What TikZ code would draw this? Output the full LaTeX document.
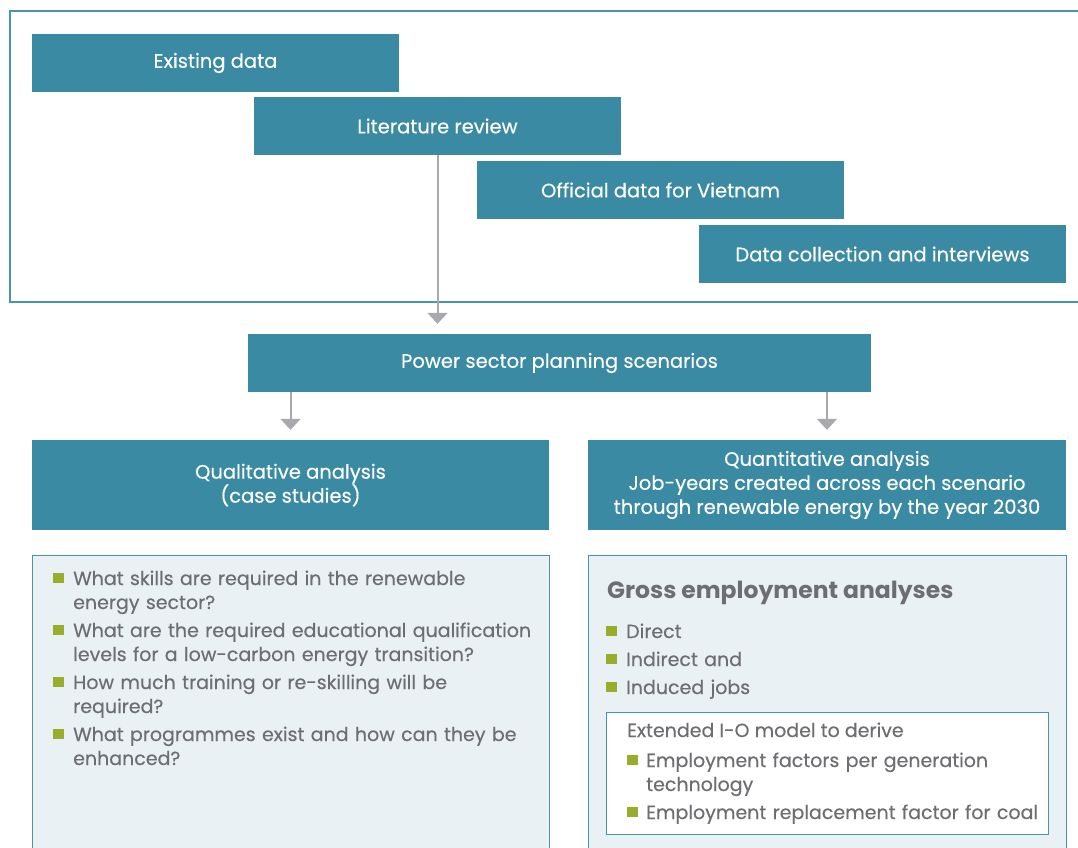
\documentclass[tikz,border=0pt]{standalone}
\usepackage{fontspec}
\setmainfont{Poppins}[UprightFeatures={FakeBold=0.35}]
\usetikzlibrary{arrows.meta,positioning}

\definecolor{boxteal}{HTML}{3A8AA3}
\definecolor{lineteal}{HTML}{4893AD}
\definecolor{paleblue}{HTML}{E9F1F5}
\definecolor{arrowgray}{HTML}{A7A9AC}
\definecolor{textgray}{HTML}{6D6E71}
\definecolor{leafgreen}{HTML}{97AD2B}

\newcommand{\bitem}[2][20pt]{\noindent\hangindent=#1\hangafter=1%
  \makebox[#1][l]{\textcolor{leafgreen}{\rule[1.7pt]{10.5pt}{10.5pt}}}#2\par}

\begin{document}
\begin{tikzpicture}[
    x=1pt, y=-1pt,
    font=\fontsize{19.5}{24}\selectfont,
    stage/.style={fill=boxteal, text=white, minimum width=367pt, minimum height=58pt, inner sep=0pt, align=center},
    panel/.style={draw=lineteal, fill=paleblue, line width=1pt},
    link/.style={draw=arrowgray, line width=2pt, -{Triangle[width=20pt,length=11pt]}, shorten >=10pt},
    listing/.style={text=textgray, inner sep=0pt, anchor=base west, align=left,
      font=\fontsize{19}{24}\selectfont,
      execute at begin node={\setlength{\parskip}{4pt}}}
  ]

  \useasboundingbox (0,0) rectangle (1078,847);

  % Sources frame
  \draw[lineteal, line width=1.2pt] (10,11) rectangle (1095,302);

  % Data sources
  \node[stage] (exist) at (215.5,63) {Existing data};
  \node[stage] (litrev) at (437.5,126) {Literature review};
  \node[stage] (official) at (660.5,190) {Official data for Vietnam};
  \node[stage] (collect) at (882.5,254) {Data collection and interviews};

  % Scenarios and the two analyses
  \node[stage, minimum width=623pt] (power) at (559.5,363) {Power sector planning scenarios};
  \node[stage, minimum width=517pt, minimum height=90pt] (qual) at (290.5,485) {Qualitative analysis\\(case studies)};
  \node[stage, minimum width=478pt, minimum height=90pt] (quant) at (827,485)
    {Quantitative analysis\\Job-years created across each scenario\\through renewable energy by the year 2030};

  \draw[link] (litrev.south) -- (litrev.south |- power.north);
  \draw[link] (power.south -| qual.north) -- (qual.north);
  \draw[link] (power.south -| quant.north) -- (quant.north);

  % Detail panels
  \draw[panel] (32,555) rectangle (549,870);
  \draw[panel] (588,555) rectangle (1066,870);
  \draw[lineteal, fill=white, line width=1pt] (606.5,712) rectangle (1048.5,834);

  \node[listing, text width=490pt] (questions) at (53,585) {%
    \bitem{What skills are required in the renewable\newline energy sector?}
    \bitem{What are the required educational qualification\newline levels for a low-carbon energy transition?}
    \bitem{How much training or re-skilling will be\newline required?}
    \bitem{What programmes exist and how can they be\newline enhanced?}};

  \node[listing, font=\fontsize{23.5}{28}\selectfont\bfseries] (gross) at (607,598) {Gross employment analyses};
  \node[listing, text width=300pt] (jobs) at (606,638) {%
    \bitem{Direct}
    \bitem{Indirect and}
    \bitem{Induced jobs}};

  \node[listing] (iomodel) at (627,737) {Extended I-O model to derive};
  \node[listing, text width=415pt] (factors) at (627,767) {%
    \bitem[19pt]{Employment factors per generation\newline technology}
    \bitem[19pt]{Employment replacement factor for coal}};

\end{tikzpicture}
\end{document}
